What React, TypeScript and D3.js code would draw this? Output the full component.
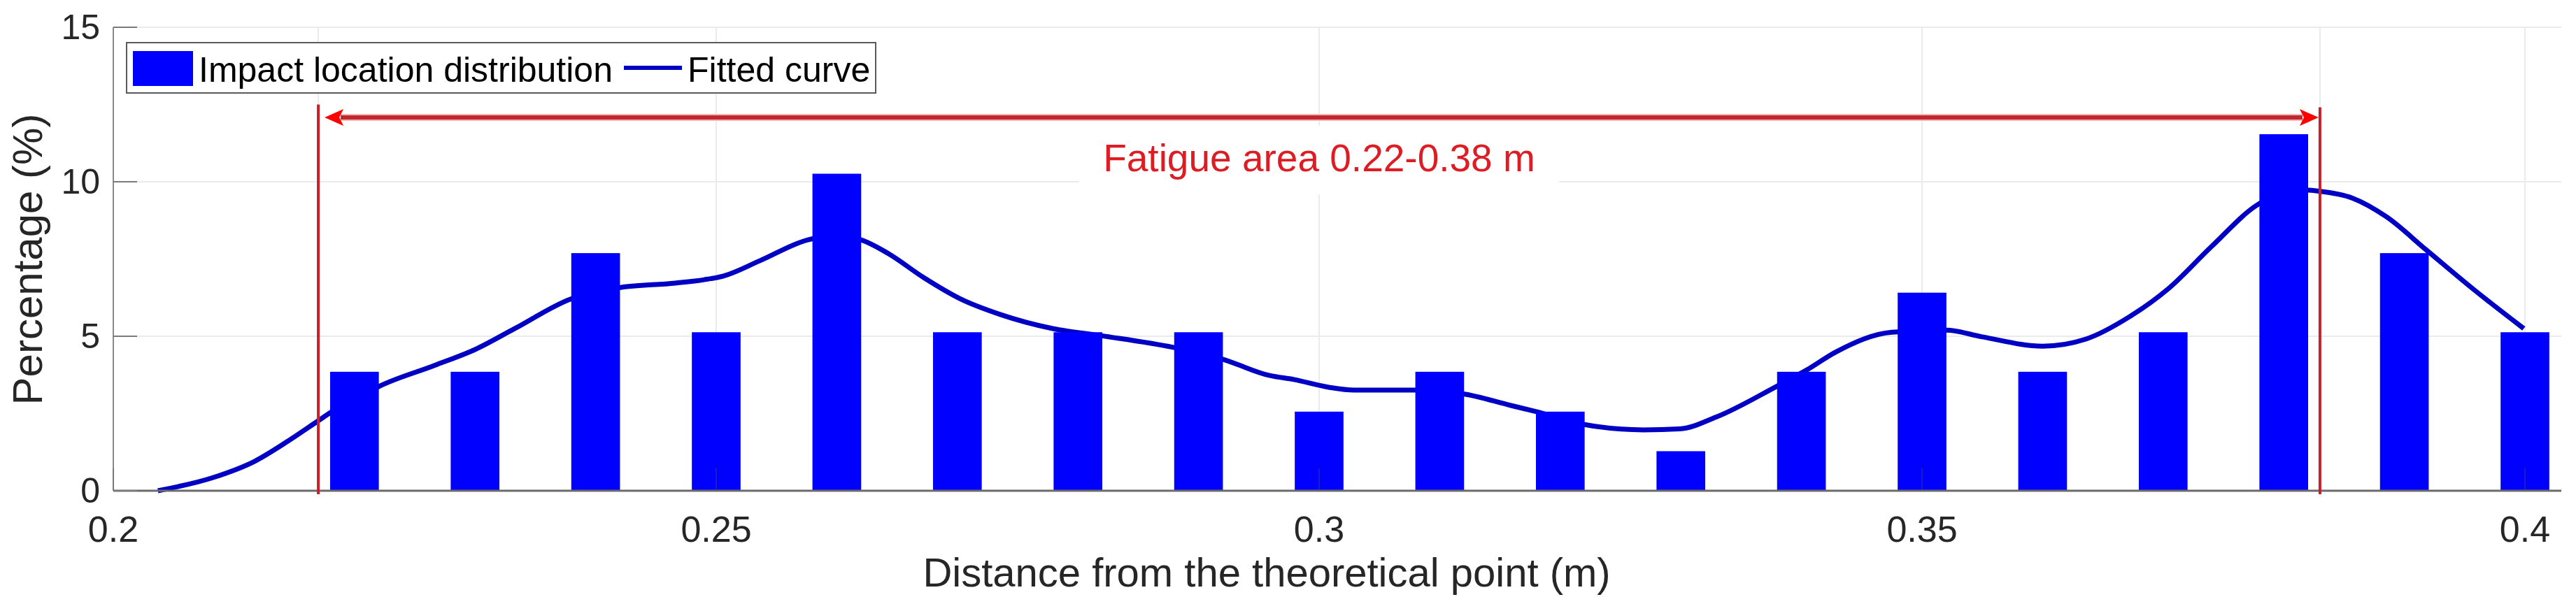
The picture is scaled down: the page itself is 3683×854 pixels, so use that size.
import React from "react";
import * as d3 from "d3";

// ---------------- data ----------------
const binCenters = [0.22, 0.23, 0.24, 0.25, 0.26, 0.27, 0.28, 0.29, 0.3, 0.31, 0.32, 0.33, 0.34, 0.35, 0.36, 0.37, 0.38, 0.39, 0.4];
const percentages = [3.85, 3.85, 7.69, 5.13, 10.26, 5.13, 5.13, 5.13, 2.56, 3.85, 2.56, 1.28, 3.85, 6.41, 3.85, 5.13, 11.54, 7.69, 5.13];

const curveX = [
  0.2037, 0.2083, 0.2117, 0.2143, 0.2169, 0.218, 0.22, 0.222, 0.2266, 0.23, 0.2333, 0.2379, 0.2419, 0.2466, 0.249,
  0.2506, 0.2536, 0.2576, 0.2598, 0.262, 0.2643, 0.2672, 0.2702, 0.2736, 0.2779, 0.2819, 0.2879, 0.2919, 0.2959,
  0.2979, 0.3008, 0.3029, 0.3079, 0.3119, 0.3159, 0.3179, 0.3219, 0.3269, 0.3299, 0.3329, 0.3379, 0.3404, 0.3429,
  0.3475, 0.352, 0.355, 0.36, 0.3636, 0.3672, 0.3704, 0.374, 0.3778, 0.381, 0.3828, 0.3857, 0.3885, 0.3918, 0.3957, 0.3999,
];
const curveY = [
  0.0, 0.43, 0.95, 1.56, 2.24, 2.53, 2.95, 3.37, 4.05, 4.57, 5.25, 6.2, 6.57, 6.72, 6.83,
  6.95, 7.44, 8.12, 8.25, 8.12, 7.67, 6.9, 6.22, 5.7, 5.25, 5.02, 4.64, 4.27, 3.73,
  3.6, 3.35, 3.26, 3.26, 3.14, 2.76, 2.57, 2.15, 1.97, 2.0, 2.38, 3.37, 3.9, 4.5,
  5.13, 5.2, 4.98, 4.68, 4.91, 5.63, 6.53, 7.9, 9.25, 9.75, 9.7, 9.47, 8.87, 7.8, 6.53, 5.25,
];

const xTicks = [0.2, 0.25, 0.3, 0.35, 0.4];
const xTickLabels = ["0.2", "0.25", "0.3", "0.35", "0.4"];
const yTicks = [0, 5, 10, 15];
const yTickLabels = ["0", "5", "10", "15"];

const fatigueRange = [0.217, 0.383];
const fatigueTop = 12.5;
const arrowLevel = 12.08;
const annotationText = "Fatigue area 0.22-0.38 m";
const legendLabels = ["Impact location distribution", "Fitted curve"];
const xLabel = "Distance from the theoretical point (m)";
const yLabel = "Percentage (%)";
const barWidthData = 0.00404;

// ---------------- layout ----------------
const W = 3683;
const H = 854;
const left = 162;
const right = 3662;
const top = 39;
const bottom = 702;
const FONT = "'Liberation Sans', Arial, Helvetica, sans-serif";
const BAR = "#0000ff";
const CURVE = "#0000c4";
const RED_LINE = "#c8202a";

export default function App() {
  const x = d3.scaleLinear().domain([0.2, 0.4]).range([left, 3610]);
  const y = d3.scaleLinear().domain([0, 15]).range([bottom, top]);

  const pts: [number, number][] = curveX.map((v, i) => [v, curveY[i]]);
  const line = d3
    .line<[number, number]>()
    .x((d) => x(d[0]))
    .y((d) => y(d[1]))
    .curve(d3.curveMonotoneX);

  const gridColor = "#ebebeb";
  const vGrid = [...xTicks.slice(1), ...fatigueRange];

  const xl = x(fatigueRange[0]);
  const xr = x(fatigueRange[1]);
  const ay = y(arrowLevel);
  const head = 27;
  const hw = 12;
  const lTip = xl + 9;
  const rTip = xr - 2;

  const textCx = x(0.3);

  return (
    <svg
      width={W}
      height={H}
      viewBox={`0 0 ${W} ${H}`}
      style={{ position: "absolute", left: 0, top: 0, display: "block", background: "#fff" }}
      fontFamily={FONT}
    >
      <rect x={0} y={0} width={W} height={H} fill="#fff" />
      {/* grid */}
      {yTicks.slice(1).map((t) => (
        <line key={"hg" + t} x1={left} x2={right} y1={y(t)} y2={y(t)} stroke={gridColor} strokeWidth={2} />
      ))}
      {vGrid.map((t) => (
        <line key={"vg" + t} x1={x(t)} x2={x(t)} y1={top} y2={bottom} stroke={gridColor} strokeWidth={2} />
      ))}

      {/* fitted curve (behind bars) */}
      <path d={line(pts) || ""} fill="none" stroke={CURVE} strokeWidth={7} />

      {/* bars */}
      {binCenters.map((c, i) => (
        <rect
          key={"b" + i}
          x={x(c - barWidthData / 2)}
          y={y(percentages[i])}
          width={x(c + barWidthData / 2) - x(c - barWidthData / 2)}
          height={y(0) - y(percentages[i])}
          fill={BAR}
        />
      ))}

      {/* axes */}
      <line x1={left} x2={left} y1={top} y2={bottom} stroke="#8a8a8a" strokeWidth={2} />
      <line x1={left} x2={right} y1={bottom} y2={bottom} stroke="#6b6b6b" strokeWidth={3} />
      {yTicks.map((t) => (
        <line key={"yt" + t} x1={left} x2={left + 34} y1={y(t)} y2={y(t)} stroke="#7a7a7a" strokeWidth={2} />
      ))}
      {xTicks.map((t) => (
        <line key={"xt" + t} x1={x(t)} x2={x(t)} y1={bottom} y2={bottom - 32} stroke="#555" strokeOpacity={0.45} strokeWidth={1.5} />
      ))}

      {/* tick labels */}
      {yTicks.map((t, i) => (
        <text key={"yl" + t} x={143} y={y(t) + 17} fontSize={50} textAnchor="end" fill="#262626">
          {yTickLabels[i]}
        </text>
      ))}
      {xTicks.map((t, i) => (
        <text key={"xl" + t} x={x(t)} y={775} fontSize={52} textAnchor="middle" fill="#262626">
          {xTickLabels[i]}
        </text>
      ))}

      {/* axis labels */}
      <text x={1811} y={839} fontSize={58} textAnchor="middle" fill="#262626">
        {xLabel}
      </text>
      <text transform={`translate(60, 371) rotate(-90)`} fontSize={60} textAnchor="middle" fill="#262626">
        {yLabel}
      </text>

      {/* fatigue area lines */}
      <line x1={xl} x2={xl} y1={y(fatigueTop)} y2={bottom + 5} stroke={RED_LINE} strokeWidth={4} />
      <line x1={xr} x2={xr} y1={y(fatigueTop) + 4} y2={bottom + 5} stroke={RED_LINE} strokeWidth={4} />

      {/* arrow */}
      <line x1={lTip + head - 4} x2={rTip - head + 4} y1={ay} y2={ay} stroke="#f5b5b5" strokeWidth={10} />
      <line x1={lTip + head - 4} x2={rTip - head + 4} y1={ay} y2={ay} stroke="#c0282e" strokeWidth={6} />
      <path d={`M${lTip},${ay} L${lTip + head},${ay - hw} L${lTip + head - 6},${ay} L${lTip + head},${ay + hw} Z`} fill="#ff0000" />
      <path d={`M${rTip},${ay} L${rTip - head},${ay - hw} L${rTip - head + 6},${ay} L${rTip - head},${ay + hw} Z`} fill="#ff0000" />

      {/* annotation */}
      <rect x={textCx - 343} y={180} width={686} height={98} fill="#fff" />
      <text x={textCx} y={245} fontSize={55} textAnchor="middle" fill="#dd1c24">
        {annotationText}
      </text>

      {/* legend */}
      <rect x={181} y={61} width={1071} height={72} fill="#fff" stroke="#5a5a5a" strokeWidth={2} />
      <rect x={190} y={73} width={86} height={50} fill={BAR} />
      <text x={284} y={117} fontSize={50} fill="#000">
        {legendLabels[0]}
      </text>
      <line x1={892} x2={975} y1={97} y2={97} stroke={CURVE} strokeWidth={6} />
      <text x={983} y={117} fontSize={50} fill="#000">
        {legendLabels[1]}
      </text>
    </svg>
  );
}
